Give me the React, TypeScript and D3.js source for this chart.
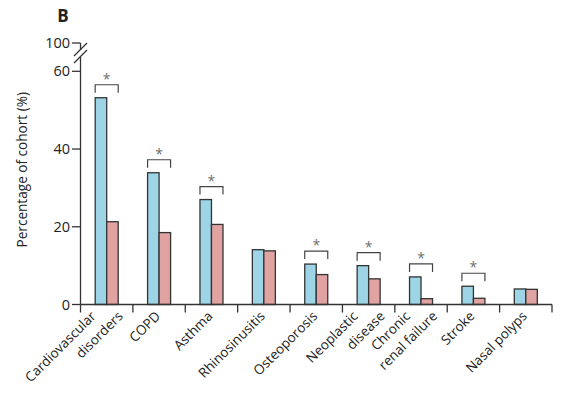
import React from 'react';
import * as d3 from 'd3';

// comorbidity groups (multi-line labels split into lines)
const categories: string[][] = [
  ['Cardiovascular', 'disorders'],
  ['COPD'],
  ['Asthma'],
  ['Rhinosinusitis'],
  ['Osteoporosis'],
  ['Neoplastic', 'disease'],
  ['Chronic', 'renal failure'],
  ['Stroke'],
  ['Nasal polyps'],
];
const seriesKeys = ['cases', 'controls'];
const cases = [53.2, 33.9, 27.0, 14.1, 10.4, 10.0, 7.1, 4.7, 4.0];
const controls = [21.3, 18.5, 20.6, 13.8, 7.7, 6.6, 1.5, 1.6, 3.9];
const significant = [true, true, true, false, true, true, true, true, false];
const yTicks = [0, 20, 40, 60];
const brokenTick = '100';

const FONT = '"Open Sans", "Noto Sans", sans-serif';
const AXIS = '#333';
const fills: Record<string, string> = { cases: '#9dd4e6', controls: '#e0a3a1' };

const App = () => {
  const W = 564;
  const H = 401;
  const left = 80.5;
  const right = 552;
  const y0 = 304.5;
  const y60 = 71.3;
  const y100 = 43;

  const keys = categories.map((c) => c.join(' '));
  const x = d3.scaleBand<string>().domain(keys).range([left, right]).padding(0);
  const pair = d3.scaleBand<string>().domain(seriesKeys).range([0, 23]).padding(0);
  const y = d3.scaleLinear().domain([0, 60]).range([y0, y60]);

  const rows = keys.map((k, i) => ({ key: k, lines: categories[i], cases: cases[i], controls: controls[i], sig: significant[i] }));
  const boundaries = [...keys.map((k) => x(k) as number), right];

  return (
    <svg width={W} height={H} style={{ position: 'absolute', left: 0, top: 0 }} fontFamily={FONT}>
      <rect width={W} height={H} fill="#fff" />
      <text x={63} y={22} fontSize={17} fontWeight="bold" textAnchor="middle" fill="#222">B</text>

      {/* y axis with break */}
      <g stroke={AXIS} strokeWidth={1.3} fill="none">
        <line x1={left} x2={left} y1={y0} y2={57} />
        <line x1={left} x2={left} y1={50} y2={y100} />
        <line x1={74} y1={63} x2={87} y2={50} />
        <line x1={74} y1={56} x2={87} y2={43} />
        <line x1={72} x2={left} y1={y100} y2={y100} />
        {yTicks.map((t) => (
          <line key={t} x1={72} x2={left} y1={y(t)} y2={y(t)} />
        ))}
      </g>
      <g fontSize={14.5} fill="#222" textAnchor="end">
        <text x={70} y={y100} dy="0.35em">{brokenTick}</text>
        {yTicks.map((t) => (
          <text key={t} x={70} y={y(t)} dy="0.35em">{t}</text>
        ))}
      </g>
      <text
        transform={`translate(27,${(y0 + 35) / 2}) rotate(-90)`}
        fontSize={13.6}
        textAnchor="middle"
        fill="#222"
      >
        Percentage of cohort (%)
      </text>

      {/* bars */}
      {rows.map((d) => {
        const cx = (x(d.key) as number) + x.bandwidth() / 2;
        const x0 = cx - 11.5;
        const top = Math.min(y(d.cases), y(d.controls));
        const bTop = top - 13;
        return (
          <g key={d.key}>
            {seriesKeys.map((s) => {
              const v = (d as any)[s] as number;
              return (
                <rect
                  key={s}
                  x={x0 + (pair(s) as number)}
                  y={y(v)}
                  width={pair.bandwidth()}
                  height={y0 - y(v)}
                  fill={fills[s]}
                  stroke={AXIS}
                  strokeWidth={1.3}
                />
              );
            })}
            {d.sig && (
              <g>
                <path
                  d={`M${x0},${bTop + 8}V${bTop}H${x0 + 23}V${bTop + 8}`}
                  fill="none"
                  stroke="#444"
                  strokeWidth={1.2}
                />
                <text x={cx} y={bTop - 1} fontSize={14} textAnchor="middle" fill="#6f6f6f">*</text>
              </g>
            )}
          </g>
        );
      })}

      {/* x axis */}
      <g stroke={AXIS} strokeWidth={1.3}>
        <line x1={left} x2={right} y1={y0} y2={y0} />
        {boundaries.map((b, i) => (
          <line key={i} x1={b} x2={b} y1={y0} y2={y0 + 8} />
        ))}
      </g>
      <g fontSize={13.5} fill="#222" textAnchor="end">
        {rows.map((d) => {
          const cx = (x(d.key) as number) + x.bandwidth() / 2;
          const offsets = d.lines.length === 1 ? [2] : [-10, 17];
          return d.lines.map((ln, j) => (
            <text key={d.key + j} transform={`translate(${cx + offsets[j]},317) rotate(-45)`}>
              {ln}
            </text>
          ));
        })}
      </g>
    </svg>
  );
};

export default App;
